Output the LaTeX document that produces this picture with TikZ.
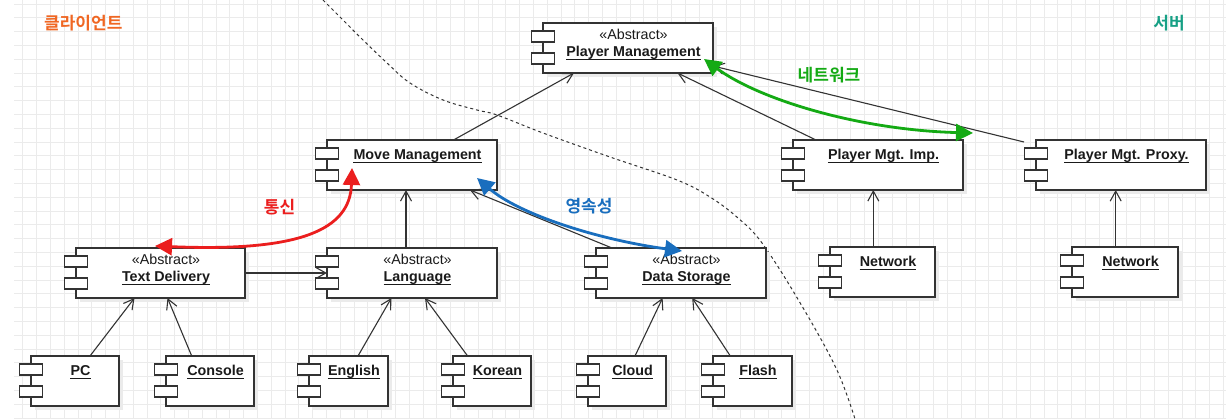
\documentclass[tikz,border=0pt]{standalone}
\usepackage{fontspec}
\setmainfont{Liberation Sans}
\IfFontExistsTF{Noto Sans CJK KR Bold}
 {\newfontfamily\krfont{Noto Sans CJK KR Bold}}
 {\newfontfamily\krfont{Noto Sans CJK KR}[FakeBold=2]}
\usetikzlibrary{arrows.meta}
\definecolor{lineC}{HTML}{333333}
\definecolor{gridC}{HTML}{EBEBEB}
\definecolor{txtC}{HTML}{1A1A1A}
\definecolor{orangeC}{RGB}{240,103,35}
\definecolor{tealC}{RGB}{22,160,133}
\definecolor{greenC}{RGB}{20,170,20}
\definecolor{redC}{RGB}{235,30,30}
\definecolor{blueC}{RGB}{25,110,190}
\tikzset{
 gridline/.style={draw=gridC, line width=0.8pt},
 compbox/.style={draw=lineC, fill=white, line width=1.4pt, rectangle, inner sep=0pt, outer sep=0pt},
 iconrect/.style={draw=lineC, fill=white, line width=1.3pt},
 shadowbox/.style={fill=black!8},
 stereo/.style={font=\fontsize{14.3}{16}\selectfont, text=txtC, inner sep=0pt, anchor=base},
 comptitle/.style={font=\fontsize{14.3}{16}\selectfont\bfseries, text=txtC, inner sep=0pt, anchor=base},
 uline/.style={draw=txtC, line width=1.2pt},
 dep/.style={draw=lineC, line width=1.1pt, -{Straight Barb[length=10pt,width=11pt]}},
 relarrow/.style={line width=2.8pt, {Triangle[length=17pt,width=17pt]}-{Triangle[length=17pt,width=17pt]}},
 krlab/.style={font=\krfont\fontsize{17}{19}\selectfont, inner sep=0pt},
 boundary/.style={draw=lineC, line width=1pt, dash pattern=on 3pt off 3pt},
}
% abstract component: name, left, top, right, bottom, title
\newcommand{\compA}[6]{%
 \fill[shadowbox] (#2+4,#3+4) rectangle (#4+4,#5+4);
 \node[compbox, anchor=north west, minimum width=#4-#2, minimum height=#5-#3] (#1) at (#2,#3) {};
 \draw[iconrect] (#2-11.5,#3+8) rectangle (#2+11.5,#3+19);
 \draw[iconrect] (#2-11.5,#3+30) rectangle (#2+11.5,#3+41);
 \node[stereo] (#1s) at ({(#2+#4)/2+5.5},#3+16.3) {«Abstract»};
 \node[comptitle] (#1t) at ({(#2+#4)/2+5.5},#3+33.3) {#6};
 \draw[uline] ([yshift=-3.3pt]#1t.base west) -- ([yshift=-3.3pt]#1t.base east);
}
% plain component
\newcommand{\compP}[6]{%
 \fill[shadowbox] (#2+4,#3+4) rectangle (#4+4,#5+4);
 \node[compbox, anchor=north west, minimum width=#4-#2, minimum height=#5-#3] (#1) at (#2,#3) {};
 \draw[iconrect] (#2-11.5,#3+8) rectangle (#2+11.5,#3+19);
 \draw[iconrect] (#2-11.5,#3+30) rectangle (#2+11.5,#3+41);
 \node[comptitle] (#1t) at ({(#2+#4)/2+5.5},#3+19.5) {#6};
 \draw[uline] ([yshift=-3.3pt]#1t.base west) -- ([yshift=-3.3pt]#1t.base east);
}
\begin{document}
\begin{tikzpicture}[x=1pt,y=-1pt]
\useasboundingbox (0,0) rectangle (1226,419);
\fill[white] (0,0) rectangle (1226,419);
% grid
\foreach \i in {0,...,87} {\draw[gridline] ({22.7+\i*13.8},0) -- ({22.7+\i*13.8},419);}
\foreach \j in {0,...,30} {\draw[gridline] (14,{4+\j*13.8}) -- (1226,{4+\j*13.8});}
% client/server boundary
\draw[boundary] plot[smooth, tension=0.6] coordinates {(323,0) (343,20) (363,40) (387,63) (410,83) (443,100) (477,110) (497,115) (543,133) (610,157) (677,180) (710,197) (738,218) (762,243) (799,301) (836,368) (855,419)};
% components
\compA{pm}{543}{23}{713}{73}{Player Management}
\compP{mm}{327}{140}{497}{190}{Move Management}
\compP{imp}{793}{140}{963}{190}{Player Mgt. Imp.}
\compP{prx}{1036}{140}{1206}{190}{Player Mgt. Proxy.}
\compA{td}{76}{248}{245}{298}{Text Delivery}
\compA{lang}{327}{248}{497}{298}{Language}
\compA{ds}{596}{248}{766}{298}{Data Storage}
\compP{neta}{830}{247}{935}{297}{Network}
\compP{netb}{1072}{247}{1178}{297}{Network}
\compP{pc}{31}{356}{119}{406}{PC}
\compP{con}{166}{356}{254}{406}{Console}
\compP{eng}{309}{356}{388}{406}{English}
\compP{kor}{453}{356}{531}{406}{Korean}
\compP{cld}{588}{356}{666}{406}{Cloud}
\compP{fl}{713}{356}{792}{406}{Flash}
% dependencies
\draw[dep] ([xshift=41.5pt]mm.north) -- ([xshift=-54pt]pm.south);
\draw[dep] ([xshift=-62pt]imp.north) -- ([xshift=49.5pt]pm.south);
\draw[dep] ([xshift=-12pt,yshift=-2pt]prx.north west) -- ([yshift=7pt]pm.south east);
\draw[dep] ([xshift=-6pt]lang.north) -- ([xshift=-6pt]mm.south);
\draw[dep] ([xshift=16pt]ds.north west) -- ([xshift=-27pt]mm.south east);
\draw[dep] (td.east) -- (lang.west);
\draw[dep] ([xshift=15pt]pc.north) -- ([xshift=-26pt]td.south);
\draw[dep] ([xshift=-18.3pt]con.north) -- ([xshift=7pt]td.south);
\draw[dep] ([xshift=9.5pt]eng.north) -- ([xshift=-20.6pt]lang.south);
\draw[dep] ([xshift=-24.4pt]kor.north) -- ([xshift=13pt]lang.south);
\draw[dep] ([xshift=8pt]cld.north) -- ([xshift=-18.4pt]ds.south);
\draw[dep] ([xshift=-22.2pt]fl.north) -- ([xshift=11.2pt]ds.south);
\draw[dep] ([xshift=-9.2pt]neta.north) -- ([xshift=-9.2pt]neta.north |- imp.south);
\draw[dep] ([xshift=-9.3pt]netb.north) -- ([xshift=-9.3pt]netb.north |- prx.south);
% coloured relations
\coordinate (gA) at (704,59);
\coordinate (gB) at (973,133);
\coordinate (rA) at (155,246);
\coordinate (rB) at (352,168);
\coordinate (bA) at (477,178);
\coordinate (bB) at (682,251);
\draw[relarrow, draw=greenC] (gA) .. controls (760,100) and (860,130) .. (gB);
\draw[relarrow, draw=redC] (rA) .. controls (300,252) and (350,230) .. (rB);
\draw[relarrow, draw=blueC] (bA) .. controls (520,215) and (600,240) .. (bB);
% labels
\node[krlab, text=orangeC] (lclient) at (83.3,23.5) {클라이언트};
\node[krlab, text=tealC] (lserver) at (1169,23.5) {서버};
\node[krlab, text=greenC] (lnet) at (829,75.5) {네트워크};
\node[krlab, text=redC] (lcomm) at (279.5,207.5) {통신};
\node[krlab, text=blueC] (lpers) at (589,206.5) {영속성};
\end{tikzpicture}
\end{document}
